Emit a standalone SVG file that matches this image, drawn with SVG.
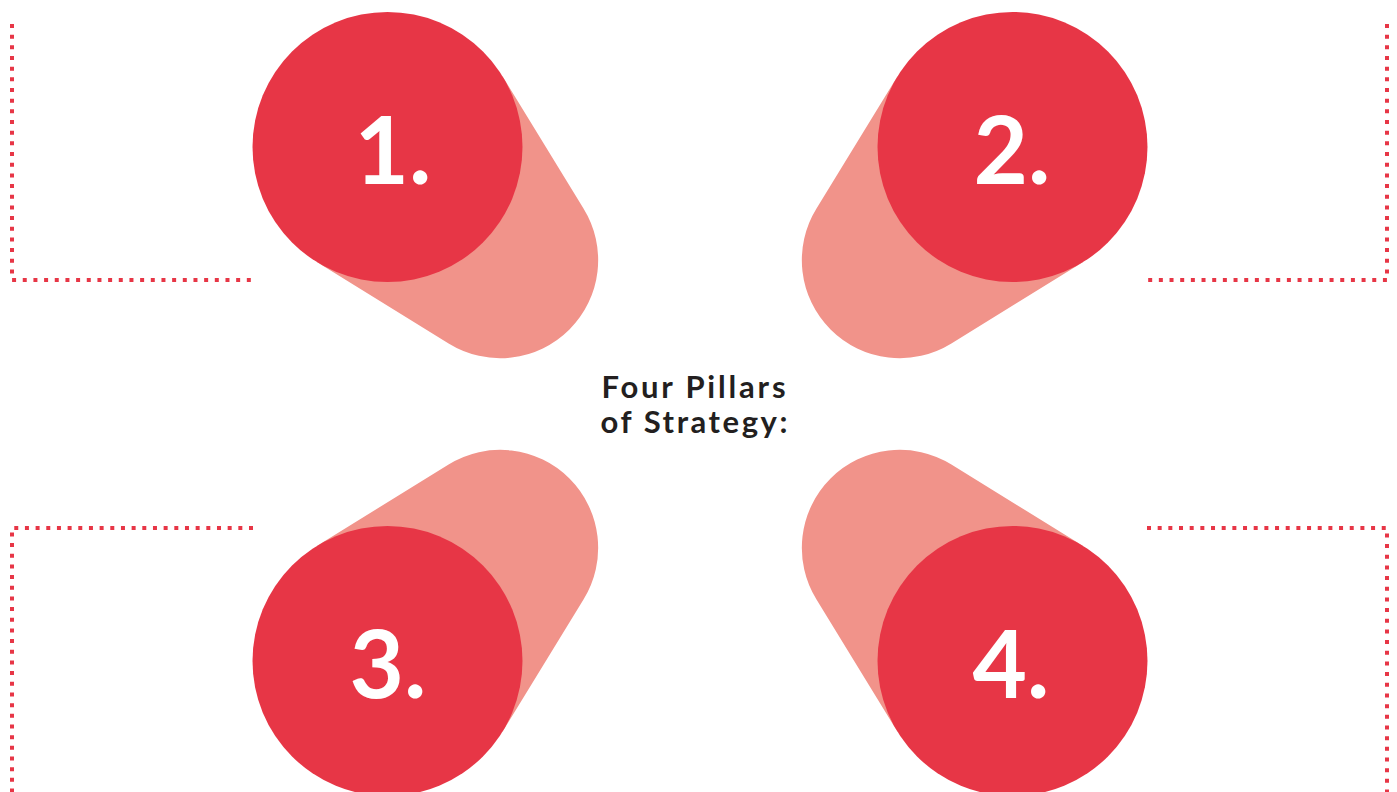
<svg xmlns="http://www.w3.org/2000/svg" width="1397" height="792" viewBox="0 0 1397 792">
  <style>
    .shadow { fill: #f1938a; }
    .disc { fill: #e73646; }
    .num { fill: #ffffff; font-family: Lato, "Open Sans", sans-serif; font-weight: 700; font-size: 94px; text-anchor: middle; }
    .dots { fill: none; stroke: #e73646; stroke-width: 4; stroke-dasharray: 4 6.67; }
    .title { fill: #231f20; font-family: Lato, "Open Sans", sans-serif; font-weight: 700; font-size: 31px; text-anchor: middle; }
  </style>
  <rect width="1397" height="792" fill="#ffffff"/>
  <g id="brackets">
    <path class="dots" d="M12,24 V280 H253"/>
    <path class="dots" d="M1387,24 V280 H1147"/>
    <path class="dots" d="M253,528 H12 V792"/>
    <path class="dots" d="M1147,528 H1387 V792"/>
  </g>
  <g id="pillar1">
    <path class="shadow" d="M502.5,76.3 L583.5,208.6 A98,98 0 0 1 448.6,343.5 L316.8,262 Z"/>
    <circle class="disc" cx="387.5" cy="147" r="135"/>
    <text class="num" x="393" y="184">1.</text>
  </g>
  <g id="pillar2">
    <path class="shadow" d="M897.5,76.3 L816.5,208.6 A98,98 0 0 0 951.4,343.5 L1083.2,262 Z"/>
    <circle class="disc" cx="1012.5" cy="147" r="135"/>
    <text class="num" x="1012" y="184">2.</text>
  </g>
  <g id="pillar3">
    <path class="shadow" d="M502.5,731.7 L583.5,599.4 A98,98 0 0 0 448.6,464.5 L316.8,546 Z"/>
    <circle class="disc" cx="387.5" cy="661" r="135"/>
    <text class="num" x="388" y="698">3.</text>
  </g>
  <g id="pillar4">
    <path class="shadow" d="M897.5,731.7 L816.5,599.4 A98,98 0 0 1 951.4,464.5 L1083.2,546 Z"/>
    <circle class="disc" cx="1012.5" cy="661" r="135"/>
    <text class="num" x="1011" y="698">4.</text>
  </g>
  <g id="title">
    <text class="title" x="693.5" y="398" textLength="184" lengthAdjust="spacing">Four Pillars</text>
    <text class="title" x="694" y="433" textLength="187" lengthAdjust="spacing">of Strategy:</text>
  </g>
</svg>
